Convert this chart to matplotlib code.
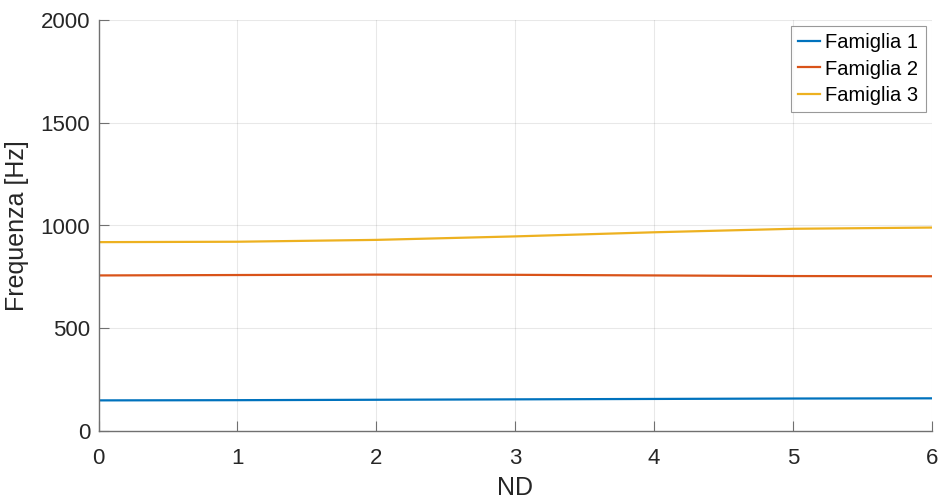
import matplotlib
matplotlib.use("Agg")
import matplotlib.pyplot as plt

nd = [0, 1, 2, 3, 4, 5, 6]
fam1 = [149, 150, 152, 154, 156, 158, 159]
fam2 = [757, 759, 761, 760, 757, 754, 753]
fam3 = [919, 921, 930, 947, 967, 984, 990]
labels = ["Famiglia 1", "Famiglia 2", "Famiglia 3"]
colors = ["#0072BD", "#D95319", "#EDB120"]

plt.rcParams['font.family'] = ['Liberation Sans', 'DejaVu Sans']
fig = plt.figure(figsize=(9.41, 4.98), dpi=100)
ax = fig.add_axes([98.5/941, 67/498, (932-98.5)/941, (431-20)/498])
for ys, lab, c in zip([fam1, fam2, fam3], labels, colors):
    ax.plot(nd, ys, color=c, lw=1.6, label=lab)
ax.set_xlim(0, 6)
ax.set_ylim(0, 2000)
ax.set_xticks(range(7))
ax.set_yticks([0, 500, 1000, 1500, 2000])
ax.grid(True, color='#262626', alpha=0.1, lw=0.8)
ax.tick_params(direction='in', labelsize=16, labelcolor='#262626', color='#707070',
               length=7, width=0.8, top=False, right=False)
ax.tick_params(axis='x', pad=12)
ax.tick_params(axis='y', pad=6)
ax.spines['top'].set_visible(False)
ax.spines['right'].set_visible(False)
for s in ('left', 'bottom'):
    ax.spines[s].set_color('#707070')
    ax.spines[s].set_linewidth(1.0)
ax.set_xlabel("ND", fontsize=18, color='#262626', labelpad=5)
ax.set_ylabel("Frequenza [Hz]", fontsize=18, color='#262626', labelpad=8)
leg = ax.legend(loc='upper right', fontsize=14.5, frameon=True, fancybox=False,
                edgecolor='#808080', borderaxespad=0.3, handlelength=1.1,
                handletextpad=0.25, labelspacing=0.35, borderpad=0.37,
                bbox_to_anchor=(1.0, 1.0))
leg.get_frame().set_linewidth(0.8)
for t in leg.get_texts():
    t.set_color('#000000')
fig.savefig("out.png", dpi=100)
